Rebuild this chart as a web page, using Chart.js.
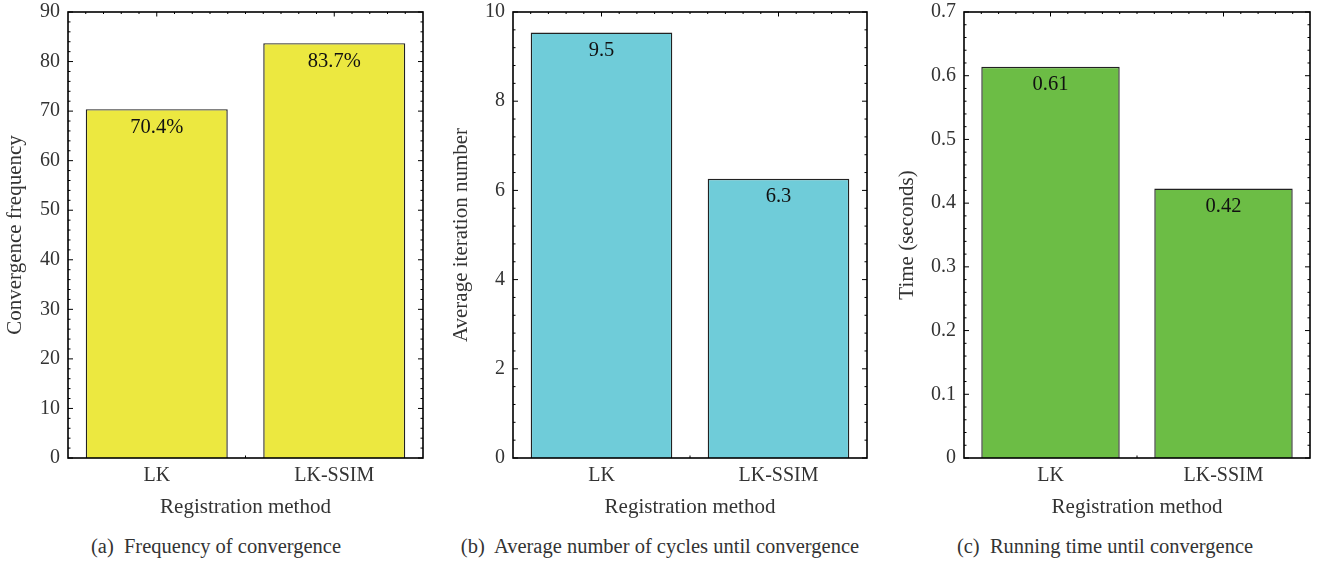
<!DOCTYPE html>
<html>
<head>
<meta charset="utf-8">
<script src="https://cdn.jsdelivr.net/npm/chart.js@4/dist/chart.umd.min.js"></script>
<style>
  body { margin: 0; background: #fff; width: 1318px; height: 564px; position: relative; overflow: hidden; }
  canvas { position: absolute; top: -8px; }
  .cap { position: absolute; top: 535px; font: 20.5px 'Liberation Serif', serif; color: #333; white-space: pre; transform: translateX(-50%); }
</style>
</head>
<body>
<canvas id="chartA" width="440" height="533" style="left:0"></canvas>
<canvas id="chartB" width="440" height="533" style="left:440px"></canvas>
<canvas id="chartC" width="438" height="533" style="left:880px"></canvas>
<div class="cap" style="left:216px">(a)  Frequency of convergence</div>
<div class="cap" style="left:660px">(b)  Average number of cycles until convergence</div>
<div class="cap" style="left:1105px">(c)  Running time until convergence</div>
<script>
// data
const categories = ['LK', 'LK-SSIM'];
const convergenceFreq = [70.4, 83.7];
const freqLabels = ['70.4%', '83.7%'];
const iterationCount = [9.54, 6.26];
const iterLabels = ['9.5', '6.3'];
const runningTime = [0.614, 0.423];
const timeLabels = ['0.61', '0.42'];

const FONT = "'Liberation Serif', 'Times New Roman', serif";
const TEXT = '#333';

// frame + inward ticks like the original plot (mathematica style)
const framePlugin = {
    id: 'frame',
    afterDatasetsDraw(chart) {
        const { ctx, chartArea: a, scales } = chart;
        const y = scales.y;
        ctx.save();
        ctx.strokeStyle = '#000';
        ctx.lineWidth = 1;
        ctx.beginPath();
        // y majors + minors on left and right
        const vals = y.ticks.map(t => t.value);
        const step = vals[1] - vals[0];
        for (let i = 0; i < vals.length; i++) {
            const py = y.getPixelForValue(vals[i]);
            ctx.moveTo(a.left, py); ctx.lineTo(a.left + 5, py);
            ctx.moveTo(a.right, py); ctx.lineTo(a.right - 5, py);
            if (i < vals.length - 1) {
                for (let k = 1; k < 5; k++) {
                    const my = y.getPixelForValue(vals[i] + step * k / 5);
                    ctx.moveTo(a.left, my); ctx.lineTo(a.left + 2.5, my);
                    ctx.moveTo(a.right, my); ctx.lineTo(a.right - 2.5, my);
                }
            }
        }
        // top ticks, majors at category centres
        const w = a.right - a.left;
        for (let k = 1; k < 20; k++) {
            const px = a.left + w * k / 20;
            const len = (k === 5 || k === 15) ? 4.5 : 2;
            ctx.moveTo(px, a.top); ctx.lineTo(px, a.top + len);
        }
        // small tick between the bars at the bottom
        const mid = a.left + w / 2;
        ctx.moveTo(mid, a.bottom); ctx.lineTo(mid, a.bottom - 2.5);
        ctx.stroke();
        ctx.lineWidth = 1.6;
        ctx.strokeRect(a.left, a.top, w, a.bottom - a.top);
        ctx.restore();
    }
};

// value text inside top of each bar
const barLabelPlugin = {
    id: 'barLabels',
    afterDatasetsDraw(chart, args, opts) {
        const { ctx } = chart;
        const meta = chart.getDatasetMeta(0);
        ctx.save();
        ctx.font = '20.5px ' + FONT;
        ctx.fillStyle = '#111';
        ctx.textAlign = 'center';
        ctx.textBaseline = 'middle';
        meta.data.forEach((bar, i) => {
            ctx.fillText(opts.texts[i], bar.x, bar.y + 18);
        });
        ctx.restore();
    }
};

function makeChart(canvasId, values, texts, color, yTitle, max, step, yWidth, padRight, yTitlePad) {
    const ctx = document.getElementById(canvasId).getContext('2d');
    return new Chart(ctx, {
        type: 'bar',
        data: {
            labels: categories,
            datasets: [{
                data: values,
                backgroundColor: color,
                borderColor: '#222',
                borderWidth: 1.4,
                barPercentage: 0.8,
                categoryPercentage: 1.0
            }]
        },
        options: {
            responsive: false,
            animation: false,
            layout: { padding: { top: 2, right: padRight, left: 0, bottom: 0 } },
            plugins: {
                legend: { display: false },
                tooltip: { enabled: false },
                barLabels: { texts: texts }
            },
            scales: {
                x: {
                    grid: { display: false, drawTicks: false },
                    border: { display: false },
                    ticks: { color: TEXT, font: { family: FONT, size: 20 }, padding: 6 },
                    title: { display: true, text: 'Registration method', color: TEXT,
                             font: { family: FONT, size: 21 }, padding: { top: 0, bottom: 5 } },
                    afterFit: s => { s.height = 67; }
                },
                y: {
                    min: 0,
                    max: max,
                    grid: { display: false, drawTicks: false },
                    border: { display: false },
                    ticks: { stepSize: step, color: TEXT, font: { family: FONT, size: 20 }, padding: 8 },
                    title: { display: true, text: yTitle, color: TEXT,
                             font: { family: FONT, size: 21 }, padding: { top: yTitlePad, bottom: 0 } },
                    afterFit: s => { s.width = yWidth; }
                }
            }
        },
        plugins: [framePlugin, barLabelPlugin]
    });
}

makeChart('chartA', convergenceFreq, freqLabels, '#ECE840', 'Convergence frequency', 90, 10, 68, 17, 3);
makeChart('chartB', iterationCount, iterLabels, '#6FCCD9', 'Average iteration number', 10, 2, 73, 13, 9);
makeChart('chartC', runningTime, timeLabels, '#6CBD45', 'Time (seconds)', 0.7, 0.1, 84, 8, 15);
</script>
</body>
</html>
